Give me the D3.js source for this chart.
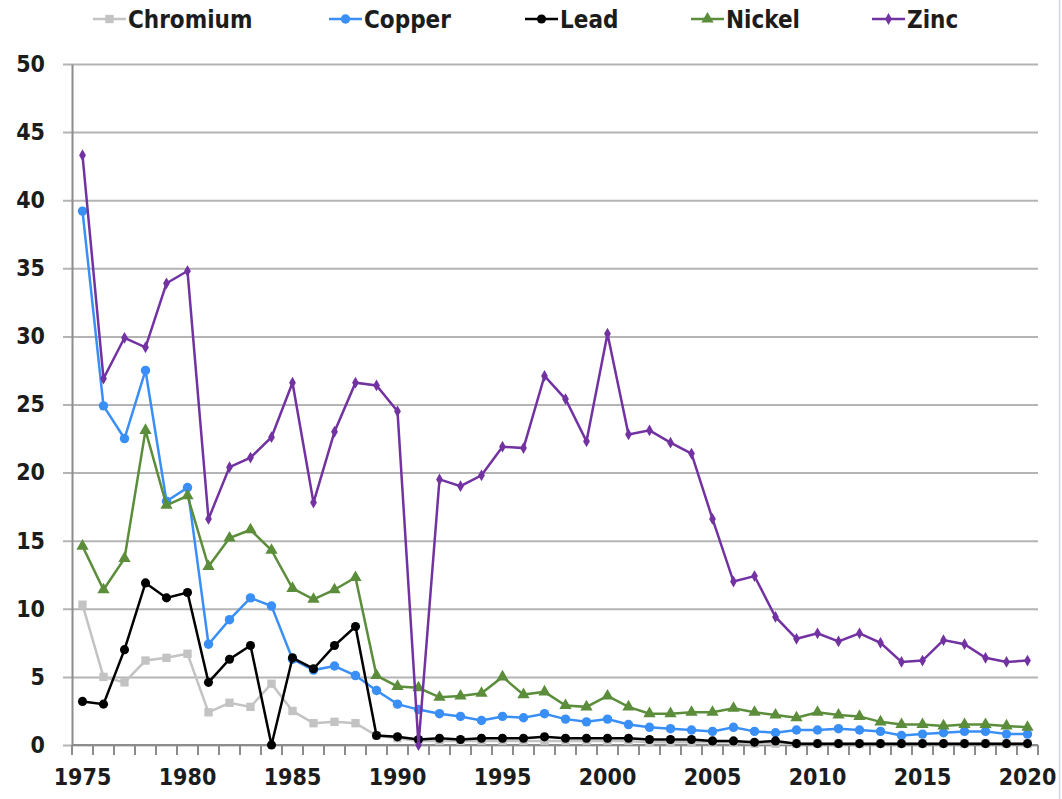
<!DOCTYPE html>
<html>
<head>
<meta charset="utf-8">
<script src="https://cdn.jsdelivr.net/npm/d3@7"></script>
<style>
  body { margin: 0; background: #fff; }
  svg { display: block; }
  text { font-family: "DejaVu Sans Condensed", "DejaVu Sans", sans-serif; font-stretch: condensed; font-weight: bold; fill: #1c1c1c; }
</style>
</head>
<body>
<div id="chart"></div>
<script>
var years = d3.range(1975, 2021);
var yTicks = [0, 5, 10, 15, 20, 25, 30, 35, 40, 45, 50];
var xLabels = [1975, 1980, 1985, 1990, 1995, 2000, 2005, 2010, 2015, 2020];

var chromium = [10.3, 5.0, 4.6, 6.2, 6.4, 6.7, 2.4, 3.1, 2.8, 4.5,
  2.5, 1.6, 1.7, 1.6, 0.7, 0.5, 0.3, 0.3, 0.3, 0.3,
  0.3, 0.3, 0.3, 0.3, 0.3, 0.3, 0.3, 0.2, 0.2, 0.2,
  0.2, 0.2, 0.1, 0.1, 0.1, 0.1, 0.1, 0.1, 0.1, 0.1,
  0.1, 0.1, 0.1, 0.1, 0.1, 0.1];
var copper = [39.2, 24.9, 22.5, 27.5, 17.9, 18.9, 7.4, 9.2, 10.8, 10.2,
  6.3, 5.5, 5.8, 5.1, 4.0, 3.0, 2.6, 2.3, 2.1, 1.8,
  2.1, 2.0, 2.3, 1.9, 1.7, 1.9, 1.5, 1.3, 1.2, 1.1,
  1.0, 1.3, 1.0, 0.9, 1.1, 1.1, 1.2, 1.1, 1.0, 0.7,
  0.8, 0.9, 1.0, 1.0, 0.8, 0.8];
var lead = [3.2, 3.0, 7.0, 11.9, 10.8, 11.2, 4.6, 6.3, 7.3, 0.0,
  6.4, 5.6, 7.3, 8.7, 0.7, 0.6, 0.4, 0.5, 0.4, 0.5,
  0.5, 0.5, 0.6, 0.5, 0.5, 0.5, 0.5, 0.4, 0.4, 0.4,
  0.3, 0.3, 0.2, 0.3, 0.1, 0.1, 0.1, 0.1, 0.1, 0.1,
  0.1, 0.1, 0.1, 0.1, 0.1, 0.1];
var nickel = [14.6, 11.4, 13.7, 23.1, 17.6, 18.3, 13.1, 15.2, 15.8, 14.3,
  11.5, 10.7, 11.4, 12.3, 5.1, 4.3, 4.2, 3.5, 3.6, 3.8,
  5.0, 3.7, 3.9, 2.9, 2.8, 3.6, 2.8, 2.3, 2.3, 2.4,
  2.4, 2.7, 2.4, 2.2, 2.0, 2.4, 2.2, 2.1, 1.7, 1.5,
  1.5, 1.4, 1.5, 1.5, 1.4, 1.3];
var zinc = [43.3, 26.9, 29.9, 29.2, 33.9, 34.8, 16.6, 20.4, 21.1, 22.6,
  26.6, 17.8, 23.0, 26.6, 26.4, 24.5, 0.0, 19.5, 19.0, 19.8,
  21.9, 21.8, 27.1, 25.4, 22.3, 30.2, 22.8, 23.1, 22.2, 21.4,
  16.6, 12.0, 12.4, 9.4, 7.8, 8.2, 7.6, 8.2, 7.5, 6.1,
  6.2, 7.7, 7.4, 6.4, 6.1, 6.2];

var seriesNames = ["Chromium", "Copper", "Lead", "Nickel", "Zinc"];
var seriesValues = [chromium, copper, lead, nickel, zinc];
var colors = ["#c3c3c3", "#3a8ff7", "#000000", "#5b8d3b", "#7232a2"];
var shapes = [d3.symbolSquare, d3.symbolCircle, d3.symbolCircle, d3.symbolTriangle, d3.symbolDiamond];
var sizes = [70, 70, 65, 65, 40];

var width = 1062, height = 799;
var svg = d3.select("#chart").append("svg")
  .attr("width", width)
  .attr("height", height);

var x = d3.scaleBand().domain(years).range([72, 1038]).padding(0);
var y = d3.scaleLinear().domain([0, 50]).range([745, 64]);
var cx = function(d) { return x(d) + x.bandwidth() / 2; };

// faint frame edge on the right
svg.append("line")
  .attr("x1", 1059.5).attr("x2", 1059.5)
  .attr("y1", 0).attr("y2", height)
  .attr("stroke", "#cdd8e4").attr("stroke-width", 1.5);

// gridlines
svg.append("g")
  .attr("transform", "translate(63,0)")
  .call(d3.axisRight(y).tickValues(yTicks).tickSize(975).tickFormat(""))
  .call(function(g) {
    g.select(".domain").remove();
    g.selectAll("line").attr("stroke", "#b4b4b4").attr("stroke-width", 2);
  });

// y labels
svg.append("g")
  .attr("transform", "translate(72,0)")
  .call(d3.axisLeft(y).tickValues(yTicks).tickSize(0).tickPadding(27))
  .call(function(g) {
    g.select(".domain").attr("stroke", "#8c8c8c").attr("stroke-width", 2);
    g.selectAll("text").attr("font-size", 23).style("fill", "#1c1c1c");
  });

// x axis
var edges = years.map(function(d) { return x(d); }).concat([1038]);
var xg = svg.append("g");
xg.append("line")
  .attr("x1", 72).attr("x2", 1038)
  .attr("y1", y(0)).attr("y2", y(0))
  .attr("stroke", "#8c8c8c").attr("stroke-width", 2);
xg.selectAll(".tick")
  .data(edges)
  .enter().append("line")
  .attr("x1", function(d) { return d; })
  .attr("x2", function(d) { return d; })
  .attr("y1", y(0)).attr("y2", y(0) + 10)
  .attr("stroke", "#8c8c8c").attr("stroke-width", 2);
xg.selectAll(".xl")
  .data(xLabels)
  .enter().append("text")
  .attr("x", cx)
  .attr("y", 785)
  .attr("text-anchor", "middle")
  .attr("font-size", 23)
  .text(function(d) { return d; });

// series
var line = d3.line()
  .x(function(d, i) { return cx(years[i]); })
  .y(function(d) { return y(d); });

seriesValues.forEach(function(vals, s) {
  var g = svg.append("g");
  g.append("path")
    .datum(vals)
    .attr("fill", "none")
    .attr("stroke", colors[s])
    .attr("stroke-width", 2.5)
    .attr("d", line);
  g.selectAll("path.m")
    .data(vals)
    .enter().append("path")
    .attr("class", "m")
    .attr("transform", function(d, i) { return "translate(" + cx(years[i]) + "," + y(d) + ")"; })
    .attr("d", d3.symbol().type(shapes[s]).size(sizes[s]))
    .attr("fill", colors[s]);
});

// legend
var legendX = [93, 329, 525, 691, 872];
var leg = svg.append("g");
seriesNames.forEach(function(name, s) {
  var g = leg.append("g").attr("transform", "translate(" + legendX[s] + ",19)");
  g.append("line").attr("x1", 0).attr("x2", 33).attr("stroke", colors[s]).attr("stroke-width", 2.5);
  g.append("path").attr("transform", "translate(16.5,0)")
    .attr("d", d3.symbol().type(shapes[s]).size(sizes[s]))
    .attr("fill", colors[s]);
  g.append("text").attr("x", 35).attr("y", 8.5)
    .attr("font-size", 24)
    .text(name);
});
</script>
</body>
</html>
